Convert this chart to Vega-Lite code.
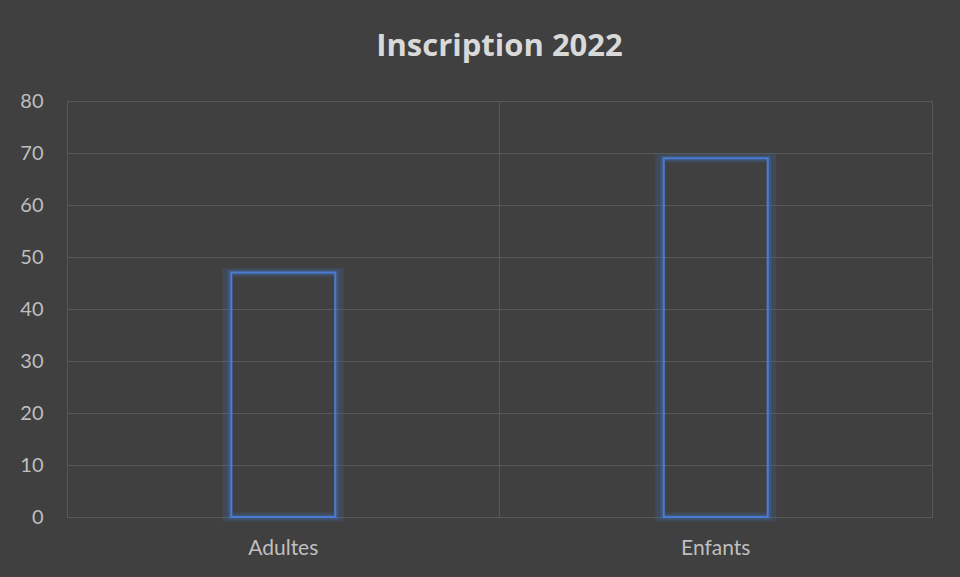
{
  "$schema": "https://vega.github.io/schema/vega-lite/v6.json",
  "width": 865,
  "height": 416,
  "autosize": "none",
  "padding": {"left": 67, "top": 101, "right": 28, "bottom": 60},
  "background": "#404040",
  "config": {
    "view": {"stroke": "#585858", "strokeWidth": 1},
    "font": "Lato"
  },
  "title": {
    "text": "Inscription 2022",
    "font": "Open Sans",
    "fontSize": 31,
    "fontWeight": "bold",
    "color": "#D9D9D9",
    "anchor": "middle",
    "offset": 28
  },
  "data": {
    "values": [
      {"categorie": "Adultes", "inscrits": 47},
      {"categorie": "Enfants", "inscrits": 69}
    ]
  },
  "encoding": {
    "x": {
      "field": "categorie",
      "type": "nominal",
      "sort": null,
      "scale": {"paddingInner": 0, "paddingOuter": 0},
      "axis": {
        "title": null,
        "labelAngle": 0,
        "labelColor": "#BFBFBF",
        "labelFontSize": 21,
        "labelFont": "Lato",
        "labelPadding": 20,
        "domain": false,
        "ticks": false,
        "grid": true,
        "bandPosition": 0,
        "gridColor": "#585858",
        "gridWidth": 1
      }
    },
    "y": {
      "field": "inscrits",
      "type": "quantitative",
      "scale": {"domain": [0, 80]},
      "axis": {
        "title": null,
        "values": [0, 10, 20, 30, 40, 50, 60, 70, 80],
        "labelColor": "#BFBFBF",
        "labelFontSize": 20,
        "labelFont": "Lato",
        "labelPadding": 24,
        "domain": false,
        "ticks": false,
        "gridColor": "#585858",
        "gridWidth": 1
      }
    }
  },
  "layer": [
    {
      "mark": {"type": "bar", "size": 112, "fill": null, "fillOpacity": 0, "stroke": "#4472C4", "strokeWidth": 9, "strokeOpacity": 0.18}
    },
    {
      "mark": {"type": "bar", "size": 106, "fill": null, "fillOpacity": 0, "stroke": "#4472C4", "strokeWidth": 5, "strokeOpacity": 0.3}
    },
    {
      "mark": {"type": "bar", "size": 104, "fill": null, "fillOpacity": 0, "stroke": "#4A7BD0", "strokeWidth": 2}
    }
  ]
}
